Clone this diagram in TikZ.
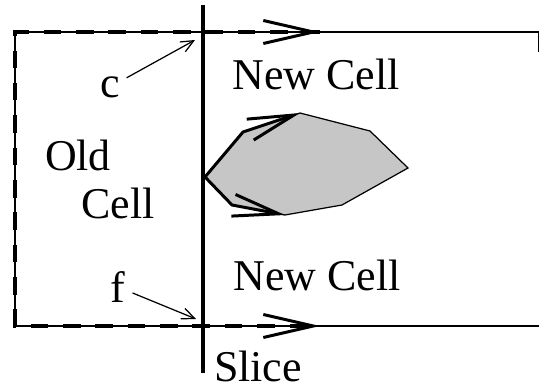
\documentclass[tikz,border=0pt]{standalone}
\usepackage{fontspec}
\setmainfont{Liberation Serif}
\usetikzlibrary{arrows.meta}
\tikzset{
  thinline/.style={line width=0.35pt},
  dashline/.style={line width=0.9pt, dash pattern=on 5pt off 4.2pt},
  sliceline/.style={line width=0.9pt},
  bigtip/.style={-{Straight Barb[length=0.5cm,width=0.23cm,line width=0.85pt]}},
  edgetip/.style={line width=0.85pt, -{Straight Barb[length=0.46cm,width=0.22cm]}},
  pointer/.style={thinline, -{Straight Barb[length=3.6pt,width=3.2pt]}, shorten <=2pt},
  lbl/.style={inner sep=0pt, font=\fontsize{12.5}{14}\selectfont}
}
\begin{document}
\begin{tikzpicture}[x=0.01cm,y=-0.01cm]
\useasboundingbox (0,0) rectangle (539,388);
\coordinate (otl) at (15,32);
\coordinate (obl) at (15,326);
\coordinate (ntr) at (539,32);
\coordinate (nbr) at (539,326);
\coordinate (toptip) at (320,32);
\coordinate (bottip) at (320,326);
\coordinate (ccorner) at (195,40);
\coordinate (fcorner) at (196,319);
\coordinate (slicetop) at (203,5);
\coordinate (slicebot) at (203,373);

% cell boundaries
\draw[thinline] (ntr) -- (otl) -- (obl) -- (nbr);
\draw[thinline] (ntr) -- (539,52);
\draw[dashline] (toptip) -- (otl) -- (obl) -- (bottip);
\draw[thinline,bigtip] (290,32) -- (toptip);
\draw[thinline,bigtip] (290,326) -- (bottip);

% object
\coordinate (pl) at (205,177);
\coordinate (pul) at (243,132);
\coordinate (pt) at (300,113);
\coordinate (pur) at (370,131);
\coordinate (pr) at (408,168);
\coordinate (plr) at (342,205);
\coordinate (pb) at (285,215);
\coordinate (pll) at (232,205);
\filldraw[fill=gray!45, thinline] (pl) -- (pul) -- (pt) -- (pur) -- (pr) -- (plr) -- (pb) -- (pll) -- cycle;
\draw[edgetip] (pl) -- (pul) -- (pt);
\draw[edgetip] (pl) -- (pll) -- (pb);

\draw[sliceline] (slicetop) -- (slicebot);

\node[lbl] (oldlbl) at (78,155) {Old};
\node[lbl] (celllbl) at (118,203) {Cell};
\node[lbl] (newtop) at (316,74) {New Cell};
\node[lbl] (newbot) at (317,275) {New Cell};
\node[lbl] (slicelbl) at (258,366) {Slice};
\node[lbl] (clbl) at (110,87) {c};
\node[lbl] (flbl) at (118,287) {f};
\draw[pointer] (clbl) -- (ccorner);
\draw[pointer] (flbl) -- (fcorner);
\end{tikzpicture}
\end{document}
